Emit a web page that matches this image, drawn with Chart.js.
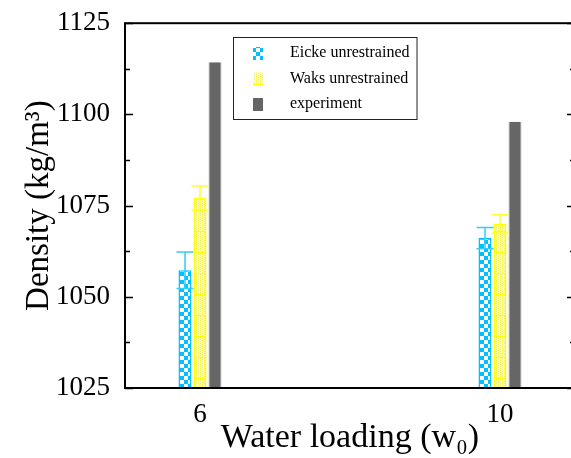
<!DOCTYPE html>
<html>
<head>
<meta charset="utf-8">
<script src="https://cdn.jsdelivr.net/npm/chart.js@4"></script>
<style>
  html, body { margin: 0; padding: 0; background: #fff; overflow: hidden; }
  #wrap { width: 580px; height: 458px; position: relative; }
</style>
</head>
<body>
<div id="wrap"><canvas id="densityChart"></canvas></div>
<script>
// water loading values on the x axis
const loadings = [6, 10];
// densities (kg/m^3) and their error bars
const eickeDensity = [1057.3, 1066.1];
const eickeErr = [5.0, 2.9];
const waksDensity = [1077.1, 1070.0];
const waksErr = [3.3, 2.5];
const expDensity = [1114.3, 1098.0];
// axis ranges / ticks
const yTicks = [1025, 1050, 1075, 1100, 1125];
const yMinorStep = 12.5;
const xRange = [5, 11];

const SERIF = '"Liberation Serif", "DejaVu Serif", serif';
const CYAN = '#00c0ff';
const YELLOW = '#ffff00';
const GREY = '#666666';

// fill patterns, checkered cyan and dotted yellow
function makePattern(w, h, paint) {
    const c = document.createElement('canvas');
    c.width = w; c.height = h;
    paint(c.getContext('2d'));
    return c.getContext('2d').createPattern(c, 'repeat');
}
const cyanPattern = makePattern(8, 8, g => {
    g.fillStyle = CYAN; g.fillRect(0, 0, 8, 8);
    g.fillStyle = '#ffffff';
    g.fillRect(0, 0, 4, 4);
    g.fillRect(4, 4, 4, 4);
});
const yellowPattern = makePattern(4, 21, g => {
    g.fillStyle = '#ffffc0'; g.fillRect(0, 0, 4, 21);
    g.fillStyle = '#f4f040';
    for (let r = 1; r < 21; r += 2) { g.fillRect(0, r, 1, 1); g.fillRect(2, r + 1, 1, 1); }
    g.fillStyle = YELLOW;
    g.fillRect(0, 0, 4, 1);
});

const toPts = vals => vals.map((v, i) => ({ x: loadings[i], y: v }));

// error bars, inward ticks, frame and boxed legend
const decorations = {
    id: 'decorations',
    afterDatasetsDraw(chart) {
        const { ctx, chartArea: a, scales: { y } } = chart;
        ctx.save();

        chart.data.datasets.forEach((ds, di) => {
            if (!ds.errors) return;
            const meta = chart.getDatasetMeta(di);
            meta.data.forEach((bar, i) => {
                const v = ds.data[i].y, e = ds.errors[i];
                const top = y.getPixelForValue(v + e);
                const bot = y.getPixelForValue(v - e);
                const half = bar.width / 2 + 2;
                ctx.strokeStyle = ds.errColor;
                ctx.lineWidth = 1.5;
                ctx.beginPath();
                ctx.moveTo(bar.x, top); ctx.lineTo(bar.x, bot);
                ctx.moveTo(bar.x - half, top); ctx.lineTo(bar.x + half, top);
                ctx.moveTo(bar.x - half, bot); ctx.lineTo(bar.x + half, bot);
                ctx.stroke();
            });
        });

        // inward ticks on both y sides
        ctx.strokeStyle = '#000';
        ctx.lineWidth = 1.5;
        const yMin = yTicks[0], yMax = yTicks[yTicks.length - 1];
        for (let v = yMin; v <= yMax; v += yMinorStep) {
            const py = Math.round(y.getPixelForValue(v)) + 0.5;
            const len = yTicks.includes(v) ? 8 : 5;
            ctx.beginPath();
            ctx.moveTo(a.left, py); ctx.lineTo(a.left + len, py);
            ctx.moveTo(a.right, py); ctx.lineTo(a.right - len, py);
            ctx.stroke();
        }

        ctx.lineWidth = 2;
        ctx.strokeRect(a.left, a.top, a.right - a.left, a.bottom - a.top);

        // legend
        ctx.font = '16px ' + SERIF;
        const textX = 290;
        const widest = Math.max(...chart.data.datasets.map(d => ctx.measureText(d.label).width));
        const lx = 233, ly = 37, lw = textX + widest + 7 - lx, lh = 82;
        ctx.fillStyle = '#fff';
        ctx.fillRect(lx, ly, lw, lh);
        ctx.lineWidth = 1;
        ctx.strokeStyle = '#222';
        ctx.strokeRect(lx + 0.5, ly + 0.5, lw, lh);
        ctx.textBaseline = 'middle';
        ctx.textAlign = 'left';
        chart.data.datasets.forEach((ds, di) => {
            const cy = 53 + di * 25.5;
            ctx.fillStyle = ds.backgroundColor;
            ctx.fillRect(253, cy - 6, 10, 13);
            ctx.fillStyle = '#000';
            ctx.fillText(ds.label, textX, cy);
        });
        ctx.restore();
    }
};

new Chart(document.getElementById('densityChart'), {
    type: 'bar',
    data: {
        datasets: [
            { label: 'Eicke unrestrained', data: toPts(eickeDensity), errors: eickeErr, errColor: '#33ccff',
              backgroundColor: cyanPattern, borderColor: CYAN, borderWidth: 1.5 },
            { label: 'Waks unrestrained', data: toPts(waksDensity), errors: waksErr, errColor: '#ffff33',
              backgroundColor: yellowPattern, borderColor: YELLOW, borderWidth: 1.5 },
            { label: 'experiment', data: toPts(expDensity),
              backgroundColor: GREY, borderColor: '#b0b0b0', borderWidth: { left: 1, right: 1, top: 0, bottom: 0 } }
        ]
    },
    options: {
        responsive: true,
        maintainAspectRatio: false,
        animation: false,
        layout: { padding: { top: 22, right: 5, left: 0, bottom: 0 } },
        categoryPercentage: 0.15,
        barPercentage: 0.87,
        plugins: { legend: { display: false }, tooltip: { enabled: false } },
        scales: {
            x: {
                type: 'linear', min: xRange[0], max: xRange[1], offset: false,
                grid: { display: false }, border: { display: false },
                afterBuildTicks: s => { s.ticks = loadings.map(v => ({ value: v })); },
                afterFit: s => { s.height = 70; },
                ticks: { color: '#000', padding: 3, font: { family: SERIF, size: 27 }, callback: v => String(v) },
                title: { display: true, text: 'Water loading (w₀)', color: '#000',
                         font: { family: SERIF, size: 34 }, padding: { top: 0, bottom: 0 } }
            },
            y: {
                min: yTicks[0], max: yTicks[yTicks.length - 1],
                grid: { display: false }, border: { display: false },
                afterBuildTicks: s => { s.ticks = yTicks.map(v => ({ value: v })); },
                afterFit: s => { s.width = 125; },
                ticks: { color: '#000', padding: 7, font: { family: SERIF, size: 27 }, callback: v => String(v) },
                title: { display: true, text: 'Density (kg/m³)', color: '#000',
                         font: { family: SERIF, size: 33 }, padding: { top: 20, bottom: 0 } }
            }
        }
    },
    plugins: [decorations]
});
</script>
</body>
</html>
